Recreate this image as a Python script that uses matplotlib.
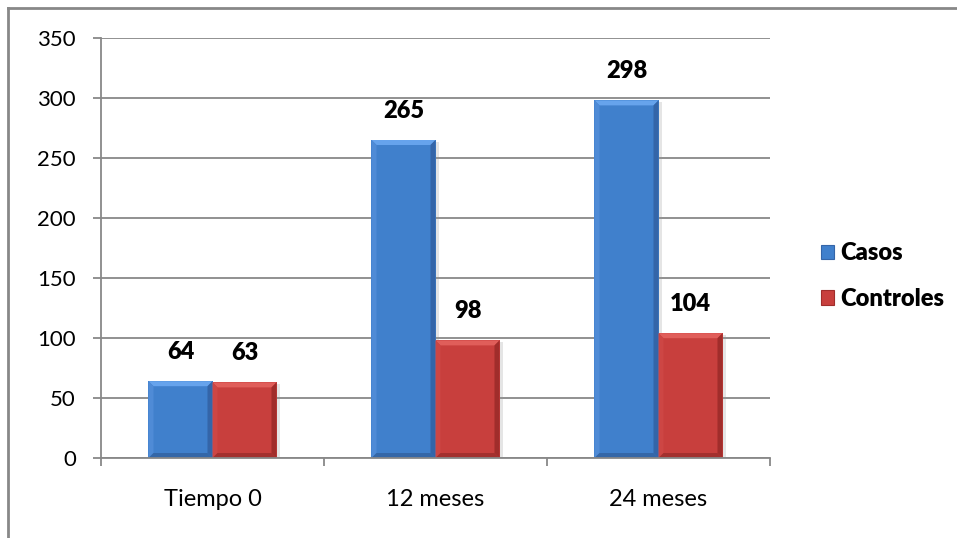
import numpy as np
import matplotlib.pyplot as plt
from matplotlib.patches import Polygon, Rectangle
from matplotlib.lines import Line2D

plt.rcParams['font.family'] = ['Lato', 'DejaVu Sans']

# datos
categorias = ['Tiempo 0', '12 meses', '24 meses']
casos = [64, 265, 298]
controles = [63, 98, 104]
series = ['Casos', 'Controles']

# colores: cara, bisel claro (arriba), bisel izq., bisel der., bisel abajo
azul = dict(face='#4080cc', top='#66a3ec', left='#4f8bd6', right='#3465a8', bottom='#3467a8')
rojo = dict(face='#c83f3d', top='#e05e5a', left='#cd4644', right='#a02d2b', bottom='#a3302e')
gris = '#888888'

fig = plt.figure(figsize=(9.57, 5.38), dpi=100)
W, H = 957, 538
ax = fig.add_axes([101 / W, (H - 458) / H, (770 - 101) / W, (458 - 38) / H])

x = np.arange(len(categorias))
ancho = 0.287

ax.set_xlim(-0.5, 2.5)
ax.set_ylim(0, 350)

# escala px por unidad de datos para el bisel
bb = ax.get_window_extent()
px_x = bb.width / 3.0
px_y = bb.height / 350.0
bev = 5
bx, by = bev / px_x, bev / px_y


def barra_bisel(x0, w, h, c):
    x1 = x0 + w
    # sombra suave a la derecha
    ax.add_patch(Rectangle((x0 + 3 / px_x, 0), w, h - 2 / px_y, color='#999999',
                           alpha=0.25, lw=0, zorder=2))
    ax.add_patch(Rectangle((x0, 0), w, h, facecolor=c['face'], lw=0, zorder=3))
    bi = min(by, h / 3)
    ax.add_patch(Polygon([(x0, h), (x1, h), (x1 - bx, h - bi), (x0 + bx, h - bi)],
                         facecolor=c['top'], lw=0, zorder=4))
    ax.add_patch(Polygon([(x0, 0), (x0, h), (x0 + bx, h - bi), (x0 + bx, bi)],
                         facecolor=c['left'], lw=0, zorder=4))
    ax.add_patch(Polygon([(x1, 0), (x1, h), (x1 - bx, h - bi), (x1 - bx, bi)],
                         facecolor=c['right'], lw=0, zorder=4))
    ax.add_patch(Polygon([(x0, 0), (x1, 0), (x1 - bx, bi), (x0 + bx, bi)],
                         facecolor=c['bottom'], lw=0, zorder=4))


for vals, c, off in [(casos, azul, -ancho), (controles, rojo, 0.0)]:
    for xi, v in zip(x, vals):
        barra_bisel(xi + off, ancho, v, c)
        ax.text(xi + off + ancho / 2, v + 18 / px_y, str(v), ha='center', va='bottom',
                fontsize=17, fontweight='heavy', color='black', zorder=5)

# ejes y rejilla
ax.set_yticks(np.arange(0, 351, 50))
ax.yaxis.grid(True, color=gris, lw=1.3, zorder=0)
ax.set_axisbelow(True)
for s in ['top', 'right']:
    ax.spines[s].set_visible(False)
for s in ['left', 'bottom']:
    ax.spines[s].set_color(gris)
    ax.spines[s].set_linewidth(1.3)
    ax.spines[s].set_zorder(6)

ax.set_xticks(x)
ax.set_xticklabels(categorias)
ax.set_xticks([-0.5, 0.5, 1.5, 2.5], minor=True)
ax.tick_params(axis='x', which='major', length=0, pad=22, labelsize=17)
ax.tick_params(axis='x', which='minor', length=6, width=1.3, color=gris)
ax.tick_params(axis='y', length=6, width=1.3, color=gris, pad=12, labelsize=16)

# leyenda
handles = [Rectangle((0, 0), 1, 1, facecolor=azul['face'], edgecolor=azul['right'], lw=0.8),
           Rectangle((0, 0), 1, 1, facecolor=rojo['face'], edgecolor=rojo['right'], lw=0.8)]
fig.legend(handles, series, loc='center left', bbox_to_anchor=(800 / W, (H - 276) / H),
           frameon=False, prop=dict(size=17, weight='heavy'), handlelength=0.55,
           handleheight=0.55, handletextpad=0.25, labelspacing=1.0)

# marco del gráfico
fig.add_artist(Line2D([8 / W, 8 / W], [0, (H - 8) / H], color=gris, lw=2))
fig.add_artist(Line2D([8 / W, 1], [(H - 8) / H, (H - 8) / H], color=gris, lw=2))

fig.savefig('out.png', dpi=100)
